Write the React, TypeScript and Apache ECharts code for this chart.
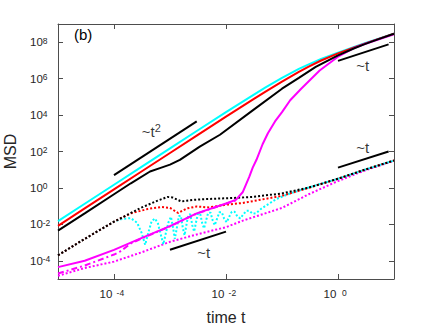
import React, { useEffect, useRef } from 'react';
import * as echarts from 'echarts';

// ---- data (time t, MSD) ----
const cyanSolid: [number, number][] = [
  [1e-5, 0.015], [3e-5, 0.135], [1e-4, 1.5], [3e-4, 13.5], [1e-3, 149], [3e-3, 1340],
  [1e-2, 1.45e4], [3e-2, 1.22e5], [5e-2, 3.2e5], [0.1, 1.1e6], [0.2, 3.4e6], [0.3, 6.1e6],
  [0.5, 1.2e7], [1, 2.7e7], [2, 5.7e7], [3, 8.7e7], [5, 1.47e8], [10, 2.97e8],
];
const redSolid: [number, number][] = [
  [1e-5, 8.3e-3], [3e-5, 0.075], [1e-4, 0.83], [3e-4, 7.5], [1e-3, 83], [3e-3, 740],
  [1e-2, 8150], [3e-2, 7.1e4], [5e-2, 1.9e5], [0.1, 6.9e5], [0.2, 2.36e6], [0.3, 4.6e6],
  [0.5, 9.9e6], [1, 2.44e7], [2, 5.4e7], [3, 8.4e7], [5, 1.44e8], [10, 2.92e8],
];
const blackSolid: [number, number][] = [
  [1e-5, 4.5e-3], [3e-5, 0.04], [1e-4, 0.45], [2e-4, 1.8], [4.4e-4, 8], [6.6e-4, 12.3],
  [1e-3, 19], [1.5e-3, 35], [3.4e-3, 186], [7.8e-3, 830], [3e-2, 1.8e4],
  [0.1, 2.8e5], [0.2, 1.1e6], [0.4, 4.4e6], [1, 1.9e7], [2, 4.8e7], [3, 7.8e7],
  [5, 1.38e8], [10, 2.9e8],
];
const magentaSolid: [number, number][] = [
  [1e-5, 4.5e-5], [3e-5, 1e-4], [1e-4, 4e-4], [3e-4, 1.7e-3], [1e-3, 8e-3], [3e-3, 0.04],
  [1e-2, 0.14], [1.5e-2, 0.22], [2e-2, 0.6], [2.6e-2, 4], [3e-2, 13], [3.5e-2, 35],
  [4.5e-2, 250], [5.6e-2, 1000], [7.5e-2, 4500], [0.1, 1.45e4], [0.14, 6.5e4],
  [0.22, 2.8e5], [0.47, 2.8e6], [1, 1.6e7], [2, 5e7], [3, 8e7], [10, 2.75e8],
];
const magentaDashDot: [number, number][] = [
  [1e-5, 2e-5], [3e-5, 5.5e-5], [1e-4, 2.2e-4], [1.3e-4, 3.3e-4], [2e-4, 9e-4],
  [3e-4, 1.6e-3], [1e-3, 7.8e-3], [3e-3, 0.039], [1e-2, 0.135], [1.5e-2, 0.21],
];
const blackDotted: [number, number][] = [
  [1e-5, 2e-4], [3e-5, 1.6e-3], [1e-4, 0.014], [3e-4, 0.08], [6e-4, 0.2], [9e-4, 0.32],
  [1.1e-3, 0.3], [1.6e-3, 0.18], [2e-3, 0.2], [2.5e-3, 0.22], [4e-3, 0.24], [1e-2, 0.27],
  [3e-2, 0.32], [0.1, 0.5], [0.3, 1.05], [1, 3.2], [3, 10], [10, 32],
];
const redDotted: [number, number][] = [
  [1e-5, 2e-4], [3e-5, 1.6e-3], [1e-4, 0.014], [2e-4, 0.04], [4e-4, 0.07], [7e-4, 0.09],
  [1e-3, 0.08], [1.4e-3, 0.042], [2e-3, 0.075], [3e-3, 0.095], [5e-3, 0.085], [1e-2, 0.12],
  [2e-2, 0.15], [5e-2, 0.25], [0.1, 0.37], [0.3, 1.0], [1, 3.2], [3, 10], [10, 32],
];
const cyanDotted: [number, number][] = [
  [1e-5, 2e-4], [3e-5, 1.6e-3], [1e-4, 0.014], [1.4e-4, 0.02], [2e-4, 0.022], [2.6e-4, 0.012],
  [3.1e-4, 3.5e-3], [3.6e-4, 7.5e-4], [4.1e-4, 3.5e-3], [4.7e-4, 0.015], [5.4e-4, 0.021],
  [6.1e-4, 0.011], [6.8e-4, 3e-3], [7.6e-4, 8e-4], [8.4e-4, 3.2e-3], [9.4e-4, 0.013],
  [1.04e-3, 0.026], [1.14e-3, 6e-3], [1.22e-3, 1.6e-3], [1.32e-3, 6e-3], [1.44e-3, 0.028],
  [1.56e-3, 0.03], [1.7e-3, 6e-3], [1.82e-3, 2.5e-3], [1.96e-3, 9e-3], [2.12e-3, 0.033],
  [2.3e-3, 0.036], [2.5e-3, 9e-3], [2.7e-3, 4e-3], [2.9e-3, 0.012], [3.15e-3, 0.038],
  [3.45e-3, 0.04], [3.75e-3, 0.012], [4.05e-3, 6e-3], [4.4e-3, 0.016], [4.8e-3, 0.042],
  [5.3e-3, 0.044], [5.8e-3, 0.016], [6.3e-3, 9e-3], [6.9e-3, 0.02], [7.6e-3, 0.046],
  [8.4e-3, 0.047], [9.3e-3, 0.02], [1.03e-2, 0.013], [1.14e-2, 0.026], [1.27e-2, 0.05],
  [1.42e-2, 0.05], [1.6e-2, 0.027], [1.8e-2, 0.021], [2.02e-2, 0.034], [2.3e-2, 0.055],
  [2.6e-2, 0.056], [3e-2, 0.038], [3.5e-2, 0.042], [4.2e-2, 0.07], [5e-2, 0.1],
  [8e-2, 0.25], [0.14, 0.5], [0.3, 1.05], [1, 3.2], [3, 10], [10, 32],
];
const magentaDotted: [number, number][] = [
  [1e-5, 1.5e-5], [3e-5, 4e-5], [1e-4, 9e-5], [3e-4, 2.8e-4], [1e-3, 1.1e-3], [3e-3, 2.8e-3],
  [1e-2, 7e-3], [2e-2, 0.016], [5e-2, 0.04], [0.1, 0.08], [0.3, 0.45], [1, 2.4], [3, 9], [10, 31],
];
// guide lines (slope references)
const guideT2: [number, number][] = [[1e-4, 5], [3e-3, 4.5e3]];
const guideTUpper: [number, number][] = [[1, 9.5e6], [8, 7.6e7]];
const guideTMiddle: [number, number][] = [[1, 13], [8, 100]];
const guideTLower: [number, number][] = [[1e-3, 4e-4], [1e-2, 4e-3]];
// annotation labels (centre position in data units)
const annotations: { t: number; m: number; text: string }[] = [
  { t: 4.65e-4, m: 1380, text: '{a|~t}{s|2}' },
  { t: 2.75, m: 5.8e6, text: '{a|~t}' },
  { t: 2.75, m: 180, text: '{a|~t}' },
  { t: 4e-3, m: 2.9e-4, text: '{a|~t}' },
];
// axis ranges in decades (log10)
const xDecades = [-5, 1];
const yDecades = [-5, 9];

const FONT = "'Liberation Sans', Arial, Helvetica, sans-serif";
const AXIS_COLOR = '#4d4d4d';
const TEXT_COLOR = '#262626';

const toLog = (arr: [number, number][]) => arr.map(([t, m]) => [Math.log10(t), Math.log10(m)]);

function powLabel(v: number) {
  const e = Math.round(v);
  if (e % 2 !== 0) return '';
  return `{b|10}{e|${e}}`;
}

function rich(expWidth?: number) {
  const e: any = { fontSize: 8.5, lineHeight: 9, verticalAlign: 'top', color: TEXT_COLOR, fontFamily: FONT };
  if (expWidth) { e.width = expWidth; e.align = 'left'; }
  return {
    b: { fontSize: 11.5, lineHeight: 12, padding: [5, 0, 0, 0], verticalAlign: 'bottom', color: TEXT_COLOR, fontFamily: FONT },
    e,
  };
}

function lineSeries(data: [number, number][], color: string, type: any, width = 2) {
  return {
    type: 'line',
    data: toLog(data),
    showSymbol: false,
    symbol: 'none',
    silent: true,
    lineStyle: { color, width, type, cap: 'butt' },
  };
}

export default function App() {
  const ref = useRef<HTMLDivElement>(null);
  useEffect(() => {
    if (!ref.current) return;
    const chart = echarts.init(ref.current, undefined, { renderer: 'svg' });
    const axisCommon = {
      type: 'value',
      splitLine: { show: false },
      axisLine: { show: true, onZero: false, lineStyle: { color: AXIS_COLOR, width: 1 } },
      axisTick: { show: true, inside: true, length: 5, lineStyle: { color: AXIS_COLOR, width: 1 } },
    };
    const labelBase = { fontSize: 11.5, fontFamily: FONT, color: TEXT_COLOR };
    const option: any = {
      animation: false,
      backgroundColor: '#ffffff',
      title: {
        text: '(b)', left: 74, top: 27, padding: 0,
        textStyle: { fontSize: 15, fontWeight: 'normal', fontFamily: FONT, color: '#000' },
      },
      grid: { left: 58, top: 24, width: 336, height: 255, containLabel: false, outerBoundsMode: 'none' },
      xAxis: [
        {
          ...axisCommon, min: xDecades[0], max: xDecades[1], splitNumber: 3, position: 'bottom',
          axisLabel: { ...labelBase, formatter: powLabel, margin: 9, align: 'center', rich: rich(16) },
          name: 'time t', nameLocation: 'middle', nameGap: 30,
          nameTextStyle: { fontSize: 16, fontFamily: FONT, color: TEXT_COLOR },
        },
        {
          ...axisCommon, min: xDecades[0], max: xDecades[1], splitNumber: 3, position: 'top',
          axisLabel: { show: false },
        },
      ],
      yAxis: [
        {
          ...axisCommon, min: yDecades[0], max: yDecades[1], splitNumber: 7, position: 'left',
          axisLabel: { ...labelBase, formatter: powLabel, margin: 28, align: 'left', rich: rich() },
          name: 'MSD', nameLocation: 'middle', nameGap: 40,
          nameTextStyle: { fontSize: 16, fontFamily: FONT, color: TEXT_COLOR },
        },
        {
          ...axisCommon, min: yDecades[0], max: yDecades[1], splitNumber: 7, position: 'right',
          axisLabel: { show: false },
        },
      ],
      series: [
        lineSeries(magentaDotted, '#ff00ff', 'dotted'),
        lineSeries(cyanDotted, '#00ffff', 'dotted'),
        lineSeries(redDotted, '#ff0000', 'dotted'),
        lineSeries(blackDotted, '#000000', 'dotted'),
        lineSeries(magentaDashDot, '#ff00ff', [6, 3, 2, 3]),
        lineSeries(cyanSolid, '#00ffff', 'solid'),
        lineSeries(redSolid, '#ff0000', 'solid'),
        lineSeries(magentaSolid, '#ff00ff', 'solid'),
        lineSeries(blackSolid, '#000000', 'solid'),
        lineSeries(guideT2, '#000000', 'solid'),
        lineSeries(guideTUpper, '#000000', 'solid'),
        lineSeries(guideTMiddle, '#000000', 'solid'),
        lineSeries(guideTLower, '#000000', 'solid'),
        {
          type: 'scatter',
          silent: true,
          symbolSize: 1,
          itemStyle: { color: 'rgba(0,0,0,0)' },
          data: annotations.map((a) => ({ value: [Math.log10(a.t), Math.log10(a.m)], text: a.text })),
          label: {
            show: true,
            position: 'inside',
            color: '#000',
            textBorderWidth: 0,
            textBorderColor: 'transparent',
            textShadowBlur: 0,
            fontFamily: FONT,
            fontSize: 15,
            formatter: (p: any) => p.data.text,
            rich: {
              a: { fontSize: 15, lineHeight: 16, padding: [5, 0, 0, 0], verticalAlign: 'bottom', color: '#000', fontFamily: FONT, textBorderWidth: 0 },
              s: { fontSize: 11, lineHeight: 12, verticalAlign: 'top', color: '#000', fontFamily: FONT, textBorderWidth: 0 },
            },
          },
        },
      ],
    };
    chart.setOption(option);
    return () => chart.dispose();
  }, []);
  return (
    <div
      ref={ref}
      style={{ position: 'fixed', left: 0, top: 0, width: 436, height: 327, background: '#fff' }}
    />
  );
}
